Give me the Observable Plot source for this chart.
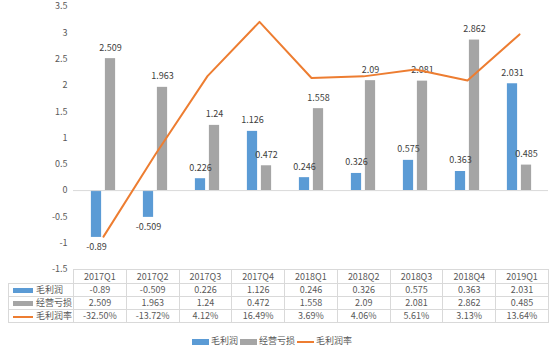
<!DOCTYPE html>
<html><head><meta charset="utf-8">
<script src="https://cdn.jsdelivr.net/npm/d3@7"></script>
<script src="https://cdn.jsdelivr.net/npm/@observablehq/plot@0.6"></script>
<style>
body{margin:0;background:#fff;font-family:"Noto Sans CJK SC","Noto Sans",sans-serif;}
#wrap{position:relative;width:554px;height:352px;overflow:hidden;}
#chart{position:absolute;left:0;top:0;}
#tbl{position:absolute;left:8px;top:269px;border-collapse:collapse;table-layout:fixed;font-size:9px;color:#595959;}
#tbl td{border:1px solid #d9d9d9;text-align:center;padding:0;white-space:nowrap;overflow:hidden;}
#tbl tr.h td{height:13px;line-height:13px;}
#tbl tr.r td{height:12px;line-height:12px;}
#tbl td.k{text-align:left;}
.key{display:inline-block;vertical-align:middle;margin:0 3px 0 4px;}
#legend{position:absolute;left:0;top:335px;width:544px;text-align:center;font-size:9px;color:#595959;line-height:12px;}
#legend span.it{margin:0 1px;}
</style>
</head><body>
<div id="wrap"><div id="chart"></div><table id="tbl"></table><div id="legend"></div></div>
<script>
const quarters = ["2017Q1","2017Q2","2017Q3","2017Q4","2018Q1","2018Q2","2018Q3","2018Q4","2019Q1"];
const grossProfit = [-0.89,-0.509,0.226,1.126,0.246,0.326,0.575,0.363,2.031];
const operatingLoss = [2.509,1.963,1.24,0.472,1.558,2.09,2.081,2.862,0.485];
const marginPct = [-32.50,-13.72,4.12,16.49,3.69,4.06,5.61,3.13,13.64];
const marginLabels = ["-32.50%","-13.72%","4.12%","16.49%","3.69%","4.06%","5.61%","3.13%","13.64%"];
const yTicks = [-1.5,-1,-0.5,0,0.5,1,1.5,2,2.5,3,3.5];
const rateAxis = [-40, 20]; // hidden secondary axis (%) for the rate line
const seriesNames = ["毛利润","经营亏损","毛利润率"];
const colors = ["#5B9BD5","#A5A5A5","#ED7D31"];

const yMin = yTicks[0], yMax = yTicks[yTicks.length-1];
const toPrimary = p => yMin + (p - rateAxis[0]) / (rateAxis[1] - rateAxis[0]) * (yMax - yMin);

const gp = quarters.map((q,i)=>({q, v: grossProfit[i]}));
const ol = quarters.map((q,i)=>({q, v: operatingLoss[i]}));
const rt = quarters.map((q,i)=>({q, v: toPrimary(marginPct[i])}));

const W = 554, ML = 73, MR = 6;
const bw = (W - ML - MR) / quarters.length;
const half = bw/2;

const plot = Plot.plot({
  width: W, height: 275,
  marginLeft: ML, marginRight: MR, marginTop: 6, marginBottom: 6,
  style: {fontFamily: '"Noto Sans CJK SC","Noto Sans",sans-serif', fontSize: "9px", color: "#595959", background: "transparent"},
  x: {type: "band", domain: quarters, padding: 0, axis: null},
  y: {domain: [yMin, yMax], nice: false},
  marks: [
    Plot.axisY({ticks: yTicks, tickSize: 0, tickPadding: 6, tickFormat: d => String(d), label: null}),
    Plot.barY(gp, {x: "q", y: "v", fill: colors[0], insetLeft: half - 12.5, insetRight: half + 1.5}),
    Plot.barY(ol, {x: "q", y: "v", fill: colors[1], insetLeft: half + 1.5, insetRight: half - 12.5}),
    Plot.ruleY([0], {stroke: "#d9d9d9"}),
    Plot.text(gp.filter(d=>d.v>=0), {x: "q", y: "v", text: d => String(d.v), dx: -7, dy: -11, fill: "#404040"}),
    Plot.text(gp.filter(d=>d.v<0), {x: "q", y: "v", text: d => String(d.v), dx: -7, dy: 10, fill: "#404040"}),
    Plot.text(ol, {x: "q", y: "v", text: d => String(d.v), dx: 7, dy: -11, fill: "#404040"}),
    Plot.line(rt, {x: "q", y: "v", stroke: colors[2], strokeWidth: 2})
  ]
});
document.getElementById("chart").appendChild(plot);

// data table
const tbl = document.getElementById("tbl");
const keyHtml = i => i === 2
  ? `<span class="key" style="width:20px;height:2px;background:${colors[i]}"></span>`
  : `<span class="key" style="width:20px;height:5px;background:${colors[i]}"></span>`;
let html = `<colgroup><col style="width:65px">${quarters.map(()=>`<col style="width:${bw}px">`).join("")}</colgroup>`;
html += `<tr class="h"><td style="border-top:hidden;border-left:hidden"></td>${quarters.map(q=>`<td>${q}</td>`).join("")}</tr>`;
const rows = [grossProfit.map(String), operatingLoss.map(String), marginLabels];
rows.forEach((r,i)=>{
  html += `<tr class="r"><td class="k">${keyHtml(i)}${seriesNames[i]}</td>${r.map(v=>`<td>${v}</td>`).join("")}</tr>`;
});
tbl.innerHTML = html;
tbl.style.width = (65 + bw*quarters.length) + "px";

// legend
document.getElementById("legend").innerHTML = seriesNames.map((n,i)=>
  `<span class="it">${i===2
    ? `<span style="display:inline-block;vertical-align:middle;width:17px;height:2px;background:${colors[i]};margin-right:2px"></span>`
    : `<span style="display:inline-block;vertical-align:middle;width:17px;height:6px;background:${colors[i]};margin-right:2px"></span>`}${n}</span>`
).join("");
</script>
</body></html>
